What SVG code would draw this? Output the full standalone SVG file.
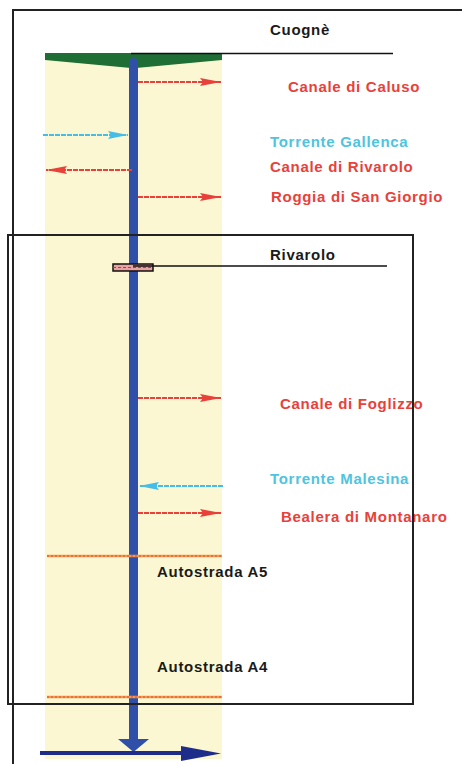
<svg xmlns="http://www.w3.org/2000/svg" width="462" height="764" viewBox="0 0 462 764">
<defs>
<style>
.t{font-family:"Liberation Sans",Arial,sans-serif;font-weight:bold;font-size:15px;letter-spacing:0.7px}
.blk{fill:#1a1a1a}.red{fill:#e8413a}.cyan{fill:#4ec4e0}
.ra{stroke:#e8413a;stroke-width:2;stroke-dasharray:5 1;fill:none}
.ca{stroke:#45bde6;stroke-width:2;stroke-dasharray:5 1;fill:none}
.hw{stroke:#f39a4a;stroke-width:2.5;fill:none}
.hwd{stroke:#e8413a;stroke-width:1;stroke-dasharray:2 2;fill:none}
.frame{fill:none;stroke:#222;stroke-width:2}
</style>
<marker id="mr" viewBox="0 0 21 8" refX="21" refY="4" markerWidth="21" markerHeight="8" markerUnits="userSpaceOnUse" orient="auto"><path d="M0,0 L21,4 L0,8 L3,4 Z" fill="#e8413a"/></marker>
<marker id="mc" viewBox="0 0 20 8" refX="20" refY="4" markerWidth="20" markerHeight="8" markerUnits="userSpaceOnUse" orient="auto"><path d="M0,0 L20,4 L0,8 L3,4 Z" fill="#45bde6"/></marker>
</defs>
<rect width="462" height="764" fill="#fff"/>
<g id="frames">
<path class="frame" d="M13,764 L13,10 L462,10"/>
</g>
<rect id="band" x="45" y="54" width="177" height="705" fill="#faf7d2"/>
<g id="cuogne">
<polygon points="45,53 222,53 222,60 136,68 131,68 45,60" fill="#1e6e35"/>
<line x1="131" y1="53.5" x2="393" y2="53.5" stroke="#111" stroke-width="1.5"/>
<text class="t blk" x="270" y="35">Cuognè</text>
</g>
<g id="river">
<rect x="129" y="60" width="9" height="682" fill="#2f4fa8"/>
<polygon points="118,739 149,739 133.5,752" fill="#2f4fa8"/>
<ellipse cx="133.5" cy="59.5" rx="3" ry="1.5" fill="#2f4fa8"/>
</g>
<g id="outflow">
<line x1="40" y1="753" x2="185" y2="753" stroke="#1f2d8a" stroke-width="4"/>
<polygon points="181,746 221,753.5 181,761" fill="#1f2d8a"/>
</g>
<g id="connectors">
<line class="ra" x1="138" y1="82" x2="221" y2="82" marker-end="url(#mr)"/>
<line class="ca" x1="43" y1="135" x2="128" y2="135" marker-end="url(#mc)"/>
<line class="ra" x1="132" y1="170" x2="46" y2="170" marker-end="url(#mr)"/>
<line class="ra" x1="138" y1="197" x2="221" y2="197" marker-end="url(#mr)"/>
<line class="ra" x1="138" y1="398" x2="221" y2="398" marker-end="url(#mr)"/>
<line class="ca" x1="223" y1="486" x2="139" y2="486" marker-end="url(#mc)"/>
<line class="ra" x1="138" y1="513" x2="221" y2="513" marker-end="url(#mr)"/>
</g>
<g id="labels">
<text class="t red" x="288" y="92">Canale di Caluso</text>
<text class="t cyan" x="270" y="147">Torrente Gallenca</text>
<text class="t red" x="270" y="172">Canale di Rivarolo</text>
<text class="t red" x="271" y="202">Roggia di San Giorgio</text>
<text class="t red" x="280" y="409">Canale di Foglizzo</text>
<text class="t cyan" x="270" y="484">Torrente Malesina</text>
<text class="t red" x="281" y="522">Bealera di Montanaro</text>
</g>
<g id="rivarolo">
<rect x="113" y="264" width="40" height="7" fill="#e8a0a0" stroke="#111" stroke-width="1.5"/>
<line x1="113" y1="267.5" x2="153" y2="267.5" stroke="#c33" stroke-width="1" stroke-dasharray="3 2"/>
<line x1="133" y1="266" x2="387" y2="266" stroke="#111" stroke-width="1.5"/>
<text class="t blk" x="270" y="260">Rivarolo</text>
</g>
<g id="a5">
<line class="hw" x1="47" y1="556" x2="222" y2="556"/>
<line class="hwd" x1="47" y1="556" x2="222" y2="556"/>
<text class="t blk" x="157" y="577">Autostrada A5</text>
</g>
<g id="a4">
<line class="hw" x1="47" y1="697" x2="222" y2="697"/>
<line class="hwd" x1="47" y1="697" x2="222" y2="697"/>
<text class="t blk" x="157" y="672">Autostrada A4</text>
</g>
<rect id="zone" class="frame" x="8" y="235" width="405" height="469"/>
</svg>
